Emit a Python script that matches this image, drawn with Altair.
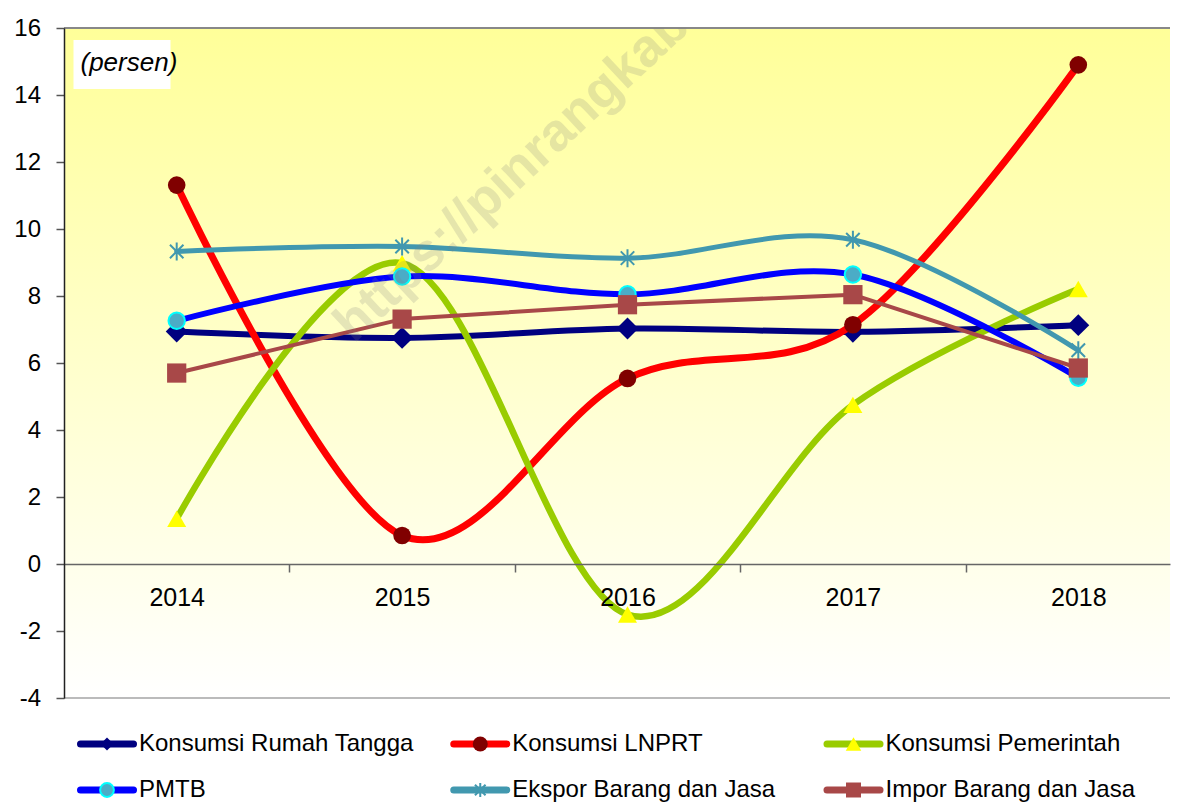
import altair as alt
import pandas as pd

# ---------------- data ----------------
years = [2014, 2015, 2016, 2017, 2018]
konsumsi_rt = [6.94, 6.75, 7.03, 6.93, 7.13]
konsumsi_lnprt = [11.31, 0.85, 5.54, 7.14, 14.90]
konsumsi_pemerintah = [1.35, 8.98, -1.51, 4.75, 8.21]
pmtb = [7.26, 8.58, 8.05, 8.64, 5.56]
ekspor = [9.33, 9.48, 9.13, 9.68, 6.38]
impor = [5.70, 7.31, 7.74, 8.04, 5.85]

series_names = [
    "Konsumsi Rumah Tangga",
    "Konsumsi LNPRT",
    "Konsumsi Pemerintah",
    "PMTB",
    "Ekspor Barang dan Jasa",
    "Impor Barang dan Jasa",
]
series_values = [konsumsi_rt, konsumsi_lnprt, konsumsi_pemerintah, pmtb, ekspor, impor]
y_ticks = [-4, -2, 0, 2, 4, 6, 8, 10, 12, 14, 16]
x_ticks = [2014, 2014.5, 2015, 2015.5, 2016, 2016.5, 2017, 2017.5, 2018]
unit_label = "(persen)"
watermark = "https://pinrangkab.bps.go.id"

# legend placement (column / row index of each entry)
legend_col = [0, 1, 2, 0, 1, 2]
legend_row = [0, 0, 0, 1, 1, 1]

# ---------------- styles ----------------
FONT = "Liberation Sans"
ASTERISK = "M0,-1L0,1M-0.75,-0.75L0.75,0.75M-0.75,0.75L0.75,-0.75"
styles = [
    dict(line="#000080", width=6, interp="cardinal", shape="diamond", size=480,
         fill="#000080", stroke=None, sw=0, filled=True, lsize=170),
    dict(line="#FF0000", width=7, interp="cardinal", shape="circle", size=310,
         fill="#800000", stroke=None, sw=0, filled=True, lsize=225),
    dict(line="#99CC00", width=6.5, interp="cardinal", shape="triangle-up", size=360,
         fill="#FFFF00", stroke=None, sw=0, filled=True, lsize=240),
    dict(line="#0000FF", width=6, interp="cardinal", shape="circle", size=270,
         fill="#4BACC6", stroke="#00FFFF", sw=2, filled=True, lsize=190),
    dict(line="#4198AF", width=5, interp="cardinal", shape=ASTERISK, size=324,
         fill=None, stroke="#4198AF", sw=2, filled=False, lsize=200),
    dict(line="#A84848", width=4, interp="linear", shape="square", size=370,
         fill="#A84848", stroke=None, sw=0, filled=True, lsize=225),
]

W, H = 1106, 670
STEP = 225.4
xscale = alt.Scale(domain=[2013.5, 2013.5 + W / STEP], nice=False, zero=False)
yscale = alt.Scale(domain=[-4, 16], nice=False, zero=False)

xaxis = alt.Axis(
    values=x_ticks, title=None, grid=False, zindex=1,
    labelExpr="datum.value % 1 === 0 ? '' + datum.value : ''",
    offset=-134, tickSize=8, tickColor="#666666", tickWidth=1.5,
    tickOpacity={"condition": {"test": "datum.value % 1 === 0", "value": 0}, "value": 1},
    domainColor="#666666", domainWidth=1.5,
    labelFont=FONT, labelFontSize=25, labelColor="black", labelPadding=13,
    labelFlush=False, labelOverlap=False,
)
yaxis = alt.Axis(
    values=y_ticks, title=None, grid=False, zindex=1,
    labelExpr="'' + datum.value",
    tickSize=8, tickColor="#555555", tickWidth=1.5,
    domainColor="#222222", domainWidth=1.5,
    labelFont=FONT, labelFontSize=24, labelColor="black", labelPadding=15.5,
    labelOverlap=False,
)

one = pd.DataFrame({"k": [0]})

background = alt.Chart(one).mark_rect(
    fill=alt.Gradient(
        gradient="linear",
        stops=[alt.GradientStop(color="#FFFF99", offset=0),
               alt.GradientStop(color="#FFFFFF", offset=1)],
        x1=0, x2=0, y1=0, y2=1,
    )
).encode(x=alt.value(0), x2=alt.value(W), y=alt.value(0), y2=alt.value(H))

top_border = alt.Chart(one).mark_rule(color="#888888", strokeWidth=2).encode(
    x=alt.value(0), x2=alt.value(W), y=alt.value(0))
bottom_border = alt.Chart(one).mark_rule(color="#BBBBBB", strokeWidth=2).encode(
    x=alt.value(0), x2=alt.value(W), y=alt.value(H))

unit_box = alt.Chart(one).mark_rect(fill="white").encode(
    x=alt.value(9.5), x2=alt.value(106.5), y=alt.value(12), y2=alt.value(61))
unit_text = alt.Chart(pd.DataFrame({"t": [unit_label]})).mark_text(
    align="left", baseline="alphabetic", font=FONT, fontSize=26, fontStyle="italic", color="black"
).encode(x=alt.value(16.5), y=alt.value(43), text="t:N")

wm = alt.Chart(pd.DataFrame({"t": [watermark]})).mark_text(
    align="left", baseline="alphabetic", font=FONT, fontSize=53, fontWeight="bold",
    angle=317, color="#808080", opacity=0.2, clip=True,
).encode(x=alt.value(290), y=alt.value(316), text="t:N")

series_layers = []
for name, vals, st in zip(series_names, series_values, styles):
    df = pd.DataFrame({"year": years, "value": vals, "series": name})
    base = alt.Chart(df).encode(
        x=alt.X("year:Q", scale=xscale, axis=xaxis),
        y=alt.Y("value:Q", scale=yscale, axis=yaxis),
    )
    line_kw = dict(color=st["line"], strokeWidth=st["width"], interpolate=st["interp"],
                   strokeJoin="round", strokeCap="round")
    if st["interp"] == "cardinal":
        line_kw["tension"] = 0
    line = base.mark_line(**line_kw)
    pt_kw = dict(shape=st["shape"], size=st["size"], filled=st["filled"], opacity=1)
    if st["fill"]:
        pt_kw["fill"] = st["fill"]
    if st["stroke"]:
        pt_kw["stroke"] = st["stroke"]
        pt_kw["strokeWidth"] = st["sw"]
    else:
        pt_kw["strokeWidth"] = 0
    pts = base.mark_point(**pt_kw)
    series_layers += [line, pts]

main = alt.layer(background, top_border, bottom_border, *series_layers, wm, unit_box, unit_text)

# ---------------- legend ----------------
lx = alt.Scale(domain=[0, 2], range=[13, 759.5])
ly = alt.Scale(domain=[0, 1], range=[716, 762])
legend_layers = []
for name, c, r, st in zip(series_names, legend_col, legend_row, styles):
    ldf = pd.DataFrame({"name": [name], "col": [c], "row": [r]})
    lb = alt.Chart(ldf).encode(
        x=alt.X("col:Q", scale=lx, axis=None),
        y=alt.Y("row:Q", scale=ly, axis=None),
    )
    sw = alt.Chart(ldf).mark_rule(
        color=st["line"], strokeWidth=7, strokeCap="round", xOffset=3.5, x2Offset=56.5
    ).encode(
        x=alt.X("col:Q", scale=lx, axis=None), x2="col:Q",
        y=alt.Y("row:Q", scale=ly, axis=None),
    )
    pt_kw = dict(shape=st["shape"], size=st["lsize"], filled=st["filled"], opacity=1, xOffset=30)
    if st["fill"]:
        pt_kw["fill"] = st["fill"]
    if st["stroke"]:
        pt_kw["stroke"] = st["stroke"]
        pt_kw["strokeWidth"] = st["sw"]
    else:
        pt_kw["strokeWidth"] = 0
    mk = lb.mark_point(**pt_kw)
    tx = lb.mark_text(align="left", baseline="middle", dx=62, font=FONT, fontSize=24,
                      color="black").encode(text="name:N")
    legend_layers += [sw, mk, tx]

legend = alt.layer(*legend_layers)

chart = (
    alt.layer(main, legend)
    .resolve_scale(x="independent", y="independent")
    .properties(width=W, height=H, padding={"left": 5, "top": 8, "right": 0, "bottom": 0})
    .configure_view(strokeWidth=0)
)

chart.save("out.html", embed_options={"renderer": "svg", "actions": False})
